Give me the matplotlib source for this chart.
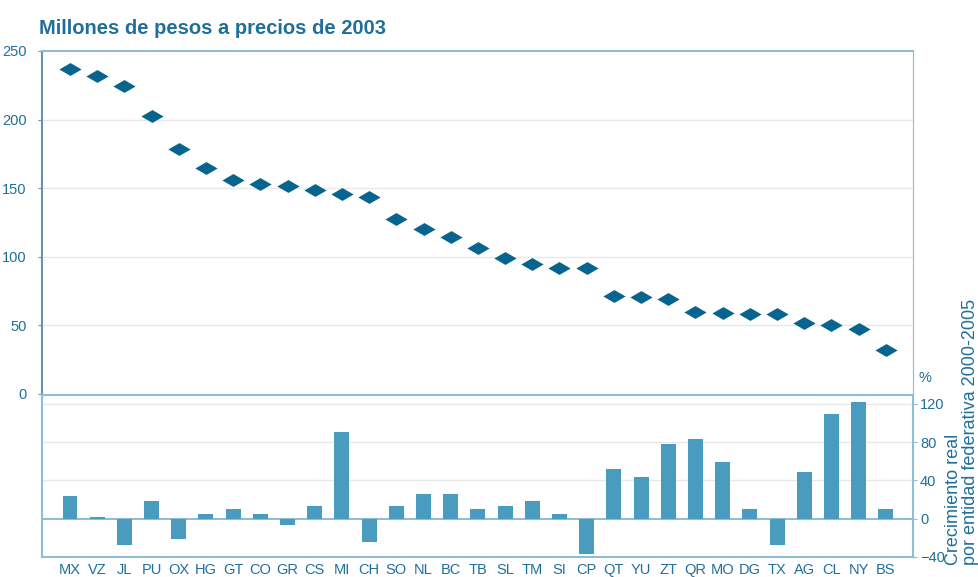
import numpy as np
import matplotlib
matplotlib.use("Agg")
import matplotlib.pyplot as plt
from matplotlib.path import Path

plt.rcParams["font.family"] = ["Liberation Sans", "DejaVu Sans"]

# Entidades federativas, ordenadas por PIB
states = ["MX", "VZ", "JL", "PU", "OX", "HG", "GT", "CO", "GR", "CS", "MI",
          "CH", "SO", "NL", "BC", "TB", "SL", "TM", "SI", "CP", "QT", "YU",
          "ZT", "QR", "MO", "DG", "TX", "AG", "CL", "NY", "BS"]

# Millones de pesos a precios de 2003
pesos = [237, 232, 224.5, 202.5, 178.5, 164.5, 156, 153, 151.5, 148.5, 145.5,
         143.5, 127.5, 120.5, 114.5, 106.5, 99, 95, 92, 92, 71.5, 70.5,
         69, 60, 59, 58.5, 58.5, 51.5, 50.5, 47.5, 32]

# Crecimiento real 2000-2005 (%)
growth = [24, 2, -27, 19, -21, 5, 10.5, 5, -7, 13.5, 90.5,
          -24, 13.5, 25.5, 25.5, 10.5, 13.5, 19, 5, -37, 52, 44,
          78, 83.5, 59.5, 10.5, -27, 49, 109.5, 122, 10.5]

top_ticks = [0, 50, 100, 150, 200, 250]
bottom_ticks = [-40, 0, 40, 80, 120]

TEXT = "#1f6f9c"
DIAMOND = "#07648f"
BAR = "#4a9bc0"
SPINE = "#8fbdd3"
GRID = "#e8e8e8"

x = np.arange(len(states))

fig = plt.figure(figsize=(9.79, 5.77), dpi=100)
ax1 = fig.add_axes([0.0429, 0.3172, 0.8897, 0.5945])
ax2 = fig.add_axes([0.0429, 0.0347, 0.8897, 0.2808])

# flattened diamond marker
diamond = Path([(-1, 0), (0, 0.58), (1, 0), (0, -0.58), (-1, 0)],
               [Path.MOVETO, Path.LINETO, Path.LINETO, Path.LINETO, Path.CLOSEPOLY])

ax1.plot(x, pesos, linestyle="none", marker=diamond, markersize=16,
         color=DIAMOND, markeredgewidth=0)
ax1.set_xlim(-1.03, 31)
ax1.set_ylim(0, 250)
ax1.set_yticks(top_ticks)
ax1.set_xticks([])
for v in top_ticks[1:-1]:
    ax1.axhline(v, color=GRID, lw=1, zorder=0)
ax1.spines["left"].set_color("#6b93a8")
ax1.spines["left"].set_linewidth(1.5)
ax1.spines["top"].set_color(SPINE)
ax1.spines["top"].set_linewidth(1.5)
ax1.spines["right"].set_color(SPINE)
ax1.spines["bottom"].set_visible(False)
ax1.tick_params(axis="y", colors=TEXT, labelsize=10.5, length=3,
                color="#6b93a8", pad=8)
ax1.set_title("Millones de pesos a precios de 2003", loc="left", x=-0.004,
              fontsize=14.5, fontweight="bold", color=TEXT, pad=12)

ax2.bar(x, growth, width=0.55, color=BAR, zorder=2)
ax2.set_xlim(-1.03, 31)
ax2.set_ylim(-40, 129.4)
ax2.set_xticks(x)
ax2.set_xticklabels(states)
ax2.set_yticks(bottom_ticks)
ax2.yaxis.tick_right()
for v in bottom_ticks[2:]:
    ax2.axhline(v, color=GRID, lw=1, zorder=0)
ax2.axhline(0, color=SPINE, lw=1.5, zorder=1)
for s in ax2.spines.values():
    s.set_color(SPINE)
    s.set_linewidth(1.5)
ax2.tick_params(axis="x", colors=TEXT, labelsize=10.5, length=0, pad=4)
ax2.tick_params(axis="y", colors=TEXT, labelsize=10.5, length=3,
                color=SPINE, pad=2)

fig.text(0.938, 0.345, "%", color=TEXT, fontsize=10.5, ha="left", va="center")
fig.text(0.983, 0.02, "Crecimiento real\npor entidad federativa 2000-2005",
         rotation=90, color=TEXT, fontsize=13, ha="center", va="bottom",
         multialignment="left", linespacing=1.0)

fig.savefig("out.png", dpi=100)
